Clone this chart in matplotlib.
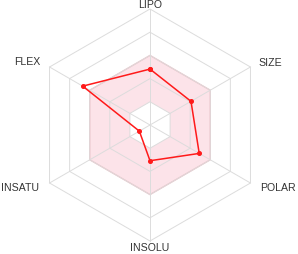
import numpy as np
import matplotlib
matplotlib.use("Agg")
import matplotlib.pyplot as plt
from matplotlib.patches import Polygon

# bioavailability radar: one value per property, in grid-ring units (0..5)
properties = ["LIPO", "SIZE", "POLAR", "INSOLU", "INSATU", "FLEX"]
values = [2.41, 2.04, 2.45, 1.54, 0.53, 3.35]
optimal_low, optimal_high = 1, 3   # pink optimal band
n_rings = 5

angles = np.deg2rad([90, 30, -30, -90, -150, 150])
label_pos = [(0, 5.22), (5.17, 2.72), (5.52, -2.67), (0, -5.26), (-5.6, -2.67), (-5.3, 2.76)]


def hexagon(r):
    return np.column_stack([r * np.cos(angles), r * np.sin(angles)])


fig = plt.figure(figsize=(2.98, 2.55), dpi=100)
ax = fig.add_axes([0, 0, 1, 1])
ax.set_xlim(-150 / 23.2, 148 / 23.2)
ax.set_ylim(-129 / 23.2, 126 / 23.2)
ax.set_aspect("equal")
ax.axis("off")

# optimal band: pink between inner and outer hexagon
outer = hexagon(optimal_high)
inner = hexagon(optimal_low)
ax.add_patch(Polygon(outer, closed=True, facecolor="#fce3e9", edgecolor="#f3b6bf", lw=0.9, zorder=1))
ax.add_patch(Polygon(inner, closed=True, facecolor="white", edgecolor="none", zorder=1))

# grid rings and spokes
for k in range(1, n_rings + 1):
    h = hexagon(k)
    ax.add_patch(Polygon(h, closed=True, fill=False, edgecolor="#dcdcdc", lw=0.7, zorder=2))
for a in angles:
    ax.plot([0, n_rings * np.cos(a)], [0, n_rings * np.sin(a)], color="#dcdcdc", lw=0.7, zorder=2)

# molecule profile
v = np.array(values)
xs = np.append(v * np.cos(angles), v[0] * np.cos(angles[0]))
ys = np.append(v * np.sin(angles), v[0] * np.sin(angles[0]))
ax.plot(xs, ys, color="#ff1a1a", lw=1.1, marker="o", ms=2.6, zorder=4)

for name, (lx, ly) in zip(properties, label_pos):
    ax.text(lx, ly, name, ha="center", va="center", fontsize=7.6,
            family="Liberation Sans", color="#333333")

fig.savefig("out.png", dpi=100)
